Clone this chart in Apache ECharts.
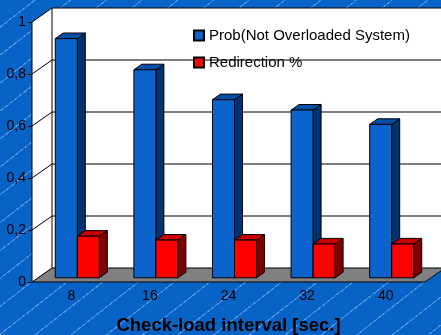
<!DOCTYPE html>
<html>
<head>
<meta charset="utf-8">
<script src="https://cdn.jsdelivr.net/npm/echarts@6/dist/echarts.min.js"></script>
<style>
  html, body { margin: 0; padding: 0; }
  #chart {
    width: 441px; height: 335px;
    background-color: #0863C6;
    background-image: repeating-linear-gradient(142deg,
      rgba(150, 195, 245, 0.0) 0px, rgba(150, 195, 245, 0.0) 21px,
      rgba(160, 200, 245, 0.5) 21px, rgba(160, 200, 245, 0.5) 22px);
  }
</style>
</head>
<body>
<div id="chart"></div>
<script>
// Check-load interval (seconds)
const categories = ['8', '16', '24', '32', '40'];
// Probability that the system is not overloaded
const probNotOverloaded = [0.92, 0.80, 0.685, 0.645, 0.59];
// Share of redirected requests
const redirection = [0.16, 0.145, 0.145, 0.13, 0.13];
// Value-axis ticks
const yTicks = [0, 0.2, 0.4, 0.6, 0.8, 1];

const FONT = '"Liberation Sans", Arial, sans-serif';
// Depth of the 3D box (px): right and up
const DX = 20, DY = -14;

// 3D box bar: front face, right side and top, placed in the middle of the depth
function bar3d(slot, front, side, topC) {
  return function (params, api) {
    const i = api.value(0), v = api.value(1);
    const base = api.coord([i, 0]);
    const top = api.coord([i, v]);
    const band = api.size([1, 0])[0];
    const w = band * 0.28;
    const x0 = base[0] + (slot === 0 ? -w : 0);
    const x1 = x0 + w;
    const fx = DX * 0.3, fy = DY * 0.3, bx = DX * 0.7, by = DY * 0.7;
    const yb = base[1], yt = top[1];
    const st = { stroke: '#000', lineWidth: 1 };
    return {
      type: 'group',
      children: [
        { type: 'polygon', shape: { points: [[x1 + fx, yt + fy], [x1 + bx, yt + by], [x1 + bx, yb + by], [x1 + fx, yb + fy]] },
          style: Object.assign({ fill: side }, st) },
        { type: 'polygon', shape: { points: [[x0 + fx, yt + fy], [x0 + bx, yt + by], [x1 + bx, yt + by], [x1 + fx, yt + fy]] },
          style: Object.assign({ fill: topC }, st) },
        { type: 'rect', shape: { x: x0 + fx, y: yt + fy, width: w, height: yb - yt },
          style: Object.assign({ fill: front }, st) }
      ]
    };
  };
}

// Walls, floor and grid lines of the 3D plot box
function frame(params, api) {
  const cs = params.coordSys;
  const W = api.getWidth();
  const yb = cs.y + cs.height;
  const line = (x1, y1, x2, y2, c) => ({
    type: 'line', shape: { x1, y1, x2, y2 }, style: { stroke: c || '#000', lineWidth: 1 }
  });
  const children = [
    { type: 'polygon', shape: { points: [[cs.x, cs.y], [cs.x + DX, cs.y + DY], [cs.x + DX, yb + DY], [cs.x, yb]] },
      style: { fill: '#fff' } },
    { type: 'rect', shape: { x: cs.x + DX, y: cs.y + DY, width: W - cs.x - DX + 2, height: cs.height },
      style: { fill: '#fff' } }
  ];
  yTicks.forEach(function (t) {
    if (t === 0) return;
    const y = api.coord([0, t])[1];
    children.push(line(cs.x, y, cs.x + DX, y + DY));
    children.push(line(cs.x + DX, y + DY, W + 2, y + DY));
  });
  children.push(line(cs.x + DX, cs.y + DY, cs.x + DX, yb + DY));
  children.push({
    type: 'polygon',
    shape: { points: [[cs.x, yb], [cs.x + DX, yb + DY], [cs.x + cs.width + DX, yb + DY], [cs.x + cs.width, yb]] },
    style: { fill: '#808080', stroke: '#000', lineWidth: 1 }
  });
  children.push(line(cs.x, cs.y, cs.x, yb));
  return { type: 'group', children };
}

const chart = echarts.init(document.getElementById('chart'), null, { renderer: 'canvas' });
chart.setOption({
  backgroundColor: 'transparent',
  animation: false,
  grid: { left: 32, top: 22, width: 393, height: 260, containLabel: false, outerBoundsMode: 'none' },
  legend: {
    data: ['Prob(Not Overloaded System)', 'Redirection %'],
    orient: 'vertical', left: 188, top: 23,
    itemWidth: 10, itemHeight: 10, itemGap: 12,
    icon: 'rect',
    textStyle: { fontFamily: FONT, fontSize: 15, color: '#000', lineHeight: 15 }
  },
  xAxis: {
    type: 'category', data: categories,
    axisLine: { show: false }, axisTick: { show: false },
    axisLabel: { fontFamily: FONT, fontSize: 14, color: '#000', margin: 7 },
    name: 'Check-load interval [sec.]', nameLocation: 'middle', nameGap: 34,
    nameTextStyle: { fontFamily: FONT, fontSize: 18.5, fontWeight: 'bold', color: '#000', verticalAlign: 'top' }
  },
  yAxis: {
    type: 'value', min: 0, max: 1, interval: 0.2,
    axisLine: { show: false },
    axisTick: { show: true, length: 4, lineStyle: { color: '#000' } },
    splitLine: { show: false },
    axisLabel: {
      fontFamily: FONT, fontSize: 14, color: '#000', margin: 6,
      formatter: v => String(Math.round(v * 10) / 10).replace('.', ',')
    }
  },
  series: [
    { type: 'custom', name: 'frame', z: 1, silent: true, renderItem: frame, data: [[0, 0]] },
    {
      type: 'custom', name: 'Prob(Not Overloaded System)', z: 2,
      itemStyle: { color: '#0A64CC', borderColor: '#000', borderWidth: 1 },
      renderItem: bar3d(0, '#0A64CC', '#003470', '#0050A8'),
      encode: { x: 0, y: 1 },
      data: probNotOverloaded.map((v, i) => [i, v])
    },
    {
      type: 'custom', name: 'Redirection %', z: 3,
      itemStyle: { color: '#FF0000', borderColor: '#000', borderWidth: 1 },
      renderItem: bar3d(1, '#FF0000', '#800000', '#C80000'),
      encode: { x: 0, y: 1 },
      data: redirection.map((v, i) => [i, v])
    }
  ]
});
</script>
</body>
</html>
